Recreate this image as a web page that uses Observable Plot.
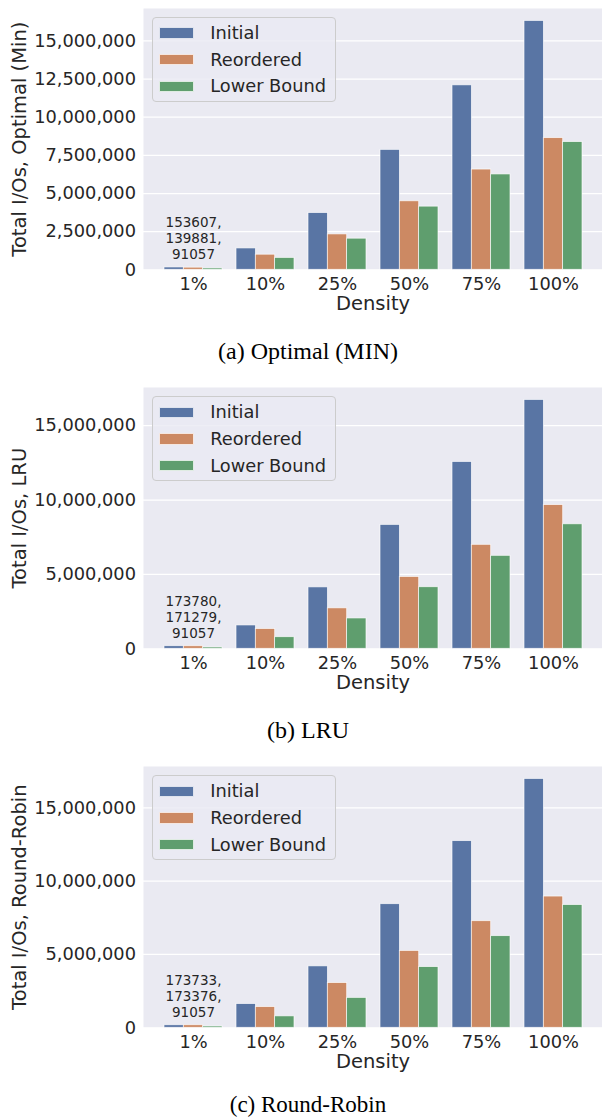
<!DOCTYPE html>
<html>
<head>
<meta charset="utf-8">
<script src="https://cdn.jsdelivr.net/npm/d3@7"></script>
<script src="https://cdn.jsdelivr.net/npm/@observablehq/plot@0.6"></script>
<style>
  html, body { margin: 0; padding: 0; background: #fff; }
  body { width: 602px; height: 1119px; overflow: hidden; position: relative; font-family: "DejaVu Sans", sans-serif; }
  .panel { position: absolute; left: 0; width: 602px; height: 379px; }
  .panel svg { position: absolute; left: 0; top: 0; }
  .legend { position: absolute; left: 151.7px; top: 16.7px; width: 184px; height: 85px; box-sizing: border-box;
            background: rgba(234,234,242,0.8); border: 1px solid #cccccc; border-radius: 4px; z-index: 2; }
  .legend .sw { position: absolute; left: 6.5px; width: 35px; height: 11.5px; box-sizing: border-box; border: 0.7px solid rgba(255,255,255,0.8); }
  .legend .lab { position: absolute; left: 57.5px; font-size: 17.8px; line-height: 20px; color: #262626; white-space: nowrap; }
  .caption { position: absolute; left: 0; width: 616px; text-align: center; font-family: "Liberation Serif", "Times New Roman", serif;
             font-size: 24px; line-height: 18px; height: 18px; color: #000; }
  .caption.last { font-size: 23px; }
</style>
</head>
<body>
<script>
// ---- data ----
const densities = ["1%", "10%", "25%", "50%", "75%", "100%"];
const seriesNames = ["Initial", "Reordered", "Lower Bound"];
const seriesColors = ["#5975a4", "#cc8963", "#5f9e6e"];

const lowerBound = [91057, 780000, 2040000, 4140000, 6250000, 8370000];

const optInitial   = [153607, 1400000, 3720000, 7860000, 12090000, 16310000];
const optReordered = [139881, 990000, 2320000, 4490000, 6570000, 8630000];

const lruInitial   = [173780, 1570000, 4130000, 8330000, 12560000, 16730000];
const lruReordered = [171279, 1330000, 2720000, 4830000, 6990000, 9660000];

const rrInitial    = [173733, 1620000, 4190000, 8430000, 12730000, 16970000];
const rrReordered  = [173376, 1410000, 3050000, 5240000, 7270000, 8950000];

const yLabels = ["Total I/Os, Optimal (Min)", "Total I/Os, LRU", "Total I/Os, Round-Robin"];
const captions = ["(a) Optimal (MIN)", "(b) LRU", "(c) Round-Robin"];
const xLabel = "Density";
const yTicksA = [0, 2500000, 5000000, 7500000, 10000000, 12500000, 15000000];
const yTicksB = [0, 5000000, 10000000, 15000000];

// ---- layout ----
const panels = [
  {series: [optInitial, optReordered, lowerBound], ticks: yTicksA, top: 0, capTop: 342},
  {series: [lruInitial, lruReordered, lowerBound], ticks: yTicksB, top: 379.3, capTop: 342},
  {series: [rrInitial, rrReordered, lowerBound], ticks: yTicksB, top: 758.3, capTop: 337.5}
];

const W = 602, H = 320, ML = 143, MR = 0, MT = 8, MB = H - 8 - 261.3;
const xOpts = {type: "band", domain: densities, paddingInner: 0.2, paddingOuter: 0.27, align: 0.5};
const xs = Plot.scale({x: {...xOpts, range: [ML, W - MR]}});
const third = xs.bandwidth / 3;
const ink = "#262626";

panels.forEach((p, k) => {
  const rows = [];
  densities.forEach((d, i) => seriesNames.forEach((s, j) => rows.push({density: d, series: s, value: p.series[j][i]})));
  const ymax = d3.max(rows, r => r.value) * 1.05;
  const firstVals = p.series.map(v => v[0]);
  const annot = [{density: densities[0], y: d3.max(firstVals), label: firstVals.join(",\n")}];

  const bars = seriesNames.map((s, j) => Plot.barY(rows.filter(r => r.series === s), {
    x: "density", y: "value", fill: "series",
    insetLeft: j * third, insetRight: (2 - j) * third,
    stroke: "#ffffff", strokeWidth: 0.8, strokeOpacity: 0.8
  }));

  const chart = Plot.plot({
    width: W, height: H, marginTop: MT, marginBottom: MB, marginLeft: ML, marginRight: MR,
    style: {fontFamily: "DejaVu Sans, sans-serif", fontSize: "17.8px", color: ink, background: "transparent"},
    x: {...xOpts, label: null},
    y: {domain: [0, ymax], label: null},
    color: {domain: seriesNames, range: seriesColors},
    marks: [
      Plot.frame({fill: "#eaeaf2", stroke: null}),
      Plot.gridY(p.ticks, {stroke: "#ffffff", strokeOpacity: 1, strokeWidth: 1.25}),
      ...bars,
      Plot.text(annot, {x: "density", y: "y", text: "label", lineAnchor: "bottom", dy: -8.7,
        fontSize: 13.5, lineHeight: 1.16, fill: ink}),
      Plot.axisX({tickSize: 0, tickPadding: 7.5, label: null, fontSize: 17.8, fill: ink}),
      Plot.axisY(p.ticks, {tickSize: 0, tickPadding: 7.5, tickFormat: d3.format(","), label: null, fontSize: 17.8, fill: ink}),
      Plot.text([xLabel], {frameAnchor: "bottom", text: d => d, lineAnchor: "bottom", dy: 40, fontSize: 19.5, fill: ink}),
      Plot.text([yLabels[k]], {frameAnchor: "left", text: d => d, rotate: -90, dx: -124, lineAnchor: "middle",
        textAnchor: "middle", fontSize: 19.5, fill: ink})
    ]
  });

  const div = document.createElement("div");
  div.className = "panel";
  div.style.top = p.top + "px";
  div.appendChild(chart);

  const lg = document.createElement("div");
  lg.className = "legend";
  seriesNames.forEach((s, j) => {
    const cy = 15.3 + j * 26.7;
    const sw = document.createElement("div");
    sw.className = "sw";
    sw.style.top = (cy - 5.75) + "px";
    sw.style.background = seriesColors[j];
    const lab = document.createElement("div");
    lab.className = "lab";
    lab.style.top = (cy - 10) + "px";
    lab.textContent = s;
    lg.appendChild(sw);
    lg.appendChild(lab);
  });
  div.appendChild(lg);

  const cap = document.createElement("div");
  cap.className = k === panels.length - 1 ? "caption last" : "caption";
  cap.style.top = p.capTop + "px";
  cap.textContent = captions[k];
  div.appendChild(cap);

  document.body.appendChild(div);
});
</script>
</body>
</html>
